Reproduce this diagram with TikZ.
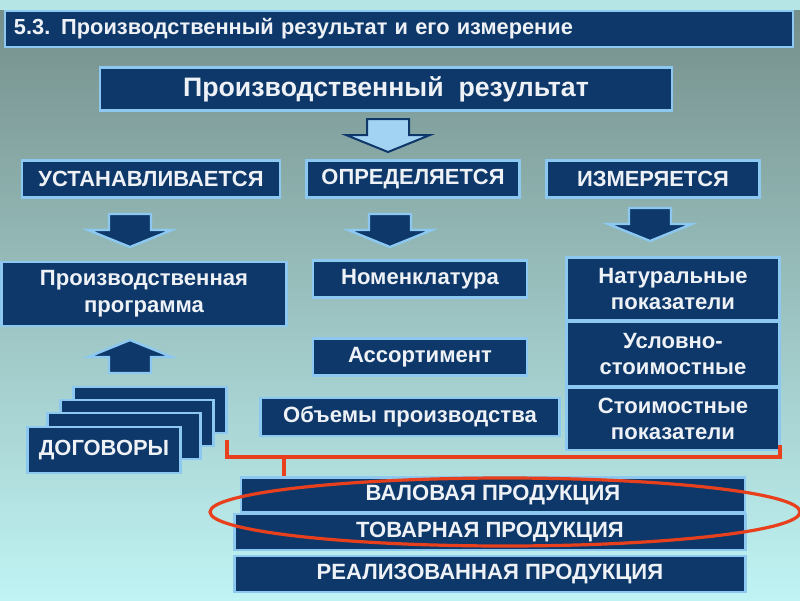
\documentclass[tikz,border=0pt]{standalone}
\usepackage{fontspec}
\setmainfont{Liberation Sans}
\usetikzlibrary{positioning}

\definecolor{boxnavy}{RGB}{14,56,106}
\definecolor{boxedge}{RGB}{140,200,240}
\definecolor{boxtext}{RGB}{238,242,246}
\definecolor{bgtop}{RGB}{116,142,138}
\definecolor{bgmid}{RGB}{140,176,172}
\definecolor{bgbot}{RGB}{192,244,244}
\definecolor{markred}{RGB}{232,64,28}

\begin{document}
\begin{tikzpicture}[x=0.25mm,y=-0.25mm,line join=miter]
  % Styles and colors
  \tikzset{
    box/.style={fill=boxnavy, draw=boxedge, line width=0.7mm, text=boxtext,
      font=\bfseries\fontsize{15.7}{19}\selectfont, align=center, inner sep=0pt},
    size/.style 2 args={minimum width=#1*0.25mm, minimum height=#2*0.25mm},
    headbox/.style={box, font=\bfseries\fontsize{15.6}{18}\selectfont},
    stackbox/.style={box, size={153}{46}},
    redline/.style={draw=markred, line width=0.8mm},
    pale arrow/.style={fill=boxedge!80!white, draw=boxnavy, line width=0.5mm},
    dark arrow/.style={fill=boxnavy, draw=boxedge, line width=0.6mm},
    blockarrow/.pic={
      \path[pic actions] (-21,0) -- (21,0) -- (21,16) -- (42,16) -- (0,33)
        -- (-42,16) -- (-21,16) -- cycle;
    }
  }

  % Background
  \useasboundingbox (0,0) rectangle (800,600);
  \shade[top color=bgtop, middle color=bgmid, bottom color=bgbot] (0,0) rectangle (800,600);
  \fill[bgbot!85!bgtop] (0,0) rectangle (800,10);

  % Title bar
  \node[box, line width=0.4mm, size={788}{36}, text width=770*0.25mm, align=left,
    font=\bfseries\fontsize{15.5}{18}\selectfont] (title) at (399,29)
    {5.3. Производственный результат и его измерение};

  % Main result
  \node[box, size={572}{43}, font=\bfseries\fontsize{19}{21}\selectfont] (res) at (386,89)
    {Производственный\ \ результат};
  \pic[pale arrow] at (388,119) {blockarrow};

  % Three headers
  \node[headbox, size={258}{37}] (ust) at (151,179) {УСТАНАВЛИВАЕТСЯ};
  \node[headbox, size={213}{37}] (opr) at (413,179) {ОПРЕДЕЛЯЕТСЯ};
  \node[headbox, size={213}{37}] (izm) at (653,179) {ИЗМЕРЯЕТСЯ};

  \pic[dark arrow] at (130,214) {blockarrow};
  \pic[dark arrow] at (390,214) {blockarrow};
  \pic[dark arrow] at (650,208) {blockarrow};

  % Left column
  \node[box, size={285}{64}] (prog) at (144,294) {Производственная\\программа};
  \pic[dark arrow, rotate=180] at (130,373) {blockarrow};
  \node[stackbox] (dog4) at (150,410) {};
  \node[stackbox] (dog3) at (137,423) {};
  \node[stackbox] (dog2) at (124,436) {};
  \node[stackbox, font=\bfseries\fontsize{15.6}{18}\selectfont] (dog1) at (104,450) {ДОГОВОРЫ};

  % Middle column
  \node[box, size={214}{37}] (nom) at (420,279) {Номенклатура};
  \node[box, size={214}{37}] (ass) at (420,357) {Ассортимент};
  \node[box, size={299}{38}] (obj) at (410,417) {Объемы производства};

  % Right column
  \node[box, size={213}{63}] (nat) at (673,289) {Натуральные\\показатели};
  \node[box, size={213}{64}] (usl) at (673,354) {Условно-\\стоимостные};
  \node[box, size={213}{62}] (stm) at (673,419) {Стоимостные\\показатели};

  % Bottom stack
  \node[box, size={504}{35}] (val) at (493,495) {ВАЛОВАЯ ПРОДУКЦИЯ};
  \node[box, size={511}{36}] (tov) at (490,532) {ТОВАРНАЯ ПРОДУКЦИЯ};
  \node[box, size={511}{36}] (real) at (490,574) {РЕАЛИЗОВАННАЯ ПРОДУКЦИЯ};

  % Red bracket and oval
  \coordinate (brl) at (227,440);
  \coordinate (brr) at (780,445);
  \coordinate (brm) at (284,457);
  \draw[redline] (brl) -- (brl |- brm) -- (brm -| brr) -- (brr);
  \draw[redline] (brm) -- (brm |- val.north);
  \draw[redline] (505,512) ellipse [x radius=295, y radius=34];
\end{tikzpicture}
\end{document}
